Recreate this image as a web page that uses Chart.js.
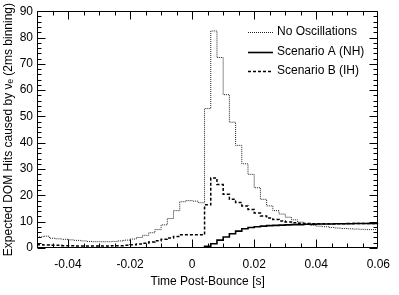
<!DOCTYPE html>
<html><head><meta charset="utf-8">
<script src="https://cdn.jsdelivr.net/npm/chart.js@4"></script>
<style>html,body{margin:0;padding:0;background:#fff}canvas{display:block}</style>
</head><body>
<canvas id="c" width="399" height="295"></canvas>
<script>
// 2 ms bins from -0.05 s to 0.06 s (55 bins, left edges)
const binEdges = Array.from({length: 56}, (_, i) => +(-0.05 + 0.002 * i).toFixed(3));
const xTickLabels = [-0.04, -0.02, 0, 0.02, 0.04, 0.06];
const yTickLabels = [0, 10, 20, 30, 40, 50, 60, 70, 80, 90];

const noOscillations = [4.2, 4.5, 3.7, 3.5, 3.3, 3.1, 2.9, 2.7, 2.5, 2.4,
  2.4, 2.4, 2.5, 2.7, 3.0, 3.4, 4.0, 4.8, 5.8, 7.0,
  8.8, 11.2, 14.2, 17.6, 18.0, 17.8, 17.2, 53.0, 82.5, 72.4,
  58.3, 47.8, 39.0, 32.0, 28.0, 22.9, 18.5, 16.0, 14.2, 12.9,
  11.7, 10.7, 9.8, 9.2, 8.6, 8.3, 8.1, 7.8, 7.6, 7.4,
  7.3, 7.2, 7.1, 7.0, 7.0];
const scenarioA = [0, 0, 0, 0, 0, 0, 0, 0, 0, 0,
  0, 0, 0, 0, 0, 0, 0, 0, 0, 0,
  0, 0, 0, 0, 0, 0, 0.1, 0.6, 1.6, 3.0,
  4.2, 5.4, 6.4, 7.3, 7.8, 8.1, 8.3, 8.5, 8.6, 8.7,
  8.8, 8.9, 8.9, 9.0, 9.0, 9.1, 9.1, 9.1, 9.2, 9.2,
  9.2, 9.3, 9.3, 9.3, 9.3];
const scenarioB = [1.2, 1.1, 1.0, 1.0, 0.9, 0.9, 0.8, 0.8, 0.8, 0.8,
  0.8, 0.8, 0.9, 0.9, 1.0, 1.2, 1.5, 1.8, 2.3, 2.8,
  3.3, 3.8, 4.4, 5.0, 5.0, 5.0, 5.0, 16.4, 26.6, 24.1,
  20.4, 18.5, 17.3, 16.0, 14.6, 13.3, 12.2, 11.4, 10.8, 10.3,
  9.9, 9.6, 9.4, 9.3, 9.2, 9.2, 9.2, 9.2, 9.2, 9.2,
  9.3, 9.3, 9.3, 9.3, 9.3];

function histPoints(vals) {
  const pts = vals.map((v, i) => ({x: binEdges[i], y: v}));
  pts.push({x: binEdges[vals.length], y: vals[vals.length - 1]});
  return pts;
}

const FONT = 'Liberation Sans, Arial, Helvetica, sans-serif';

const framePlugin = {
  id: 'frame',
  afterDatasetsDraw(chart) {
    const {ctx, chartArea: {left, right, top, bottom}, scales: {x, y}} = chart;
    ctx.save();
    ctx.strokeStyle = '#000';
    ctx.lineWidth = 1;
    const L = Math.round(left) + 0.5, R = Math.round(right) - 0.5;
    const T = Math.round(top) + 0.5, B = Math.round(bottom) - 0.5;
    ctx.beginPath();
    ctx.rect(L, T, R - L, B - T);
    // x ticks every 5 ms, long every 20 ms
    for (let i = -10; i <= 12; i++) {
      const v = i * 0.005;
      const px = Math.round(x.getPixelForValue(v)) + 0.5;
      if (px < L || px > R) continue;
      const len = (i % 4 === 0) ? 8 : 4;
      ctx.moveTo(px, B); ctx.lineTo(px, B - len);
      ctx.moveTo(px, T); ctx.lineTo(px, T + len);
    }
    // y ticks every 2, long every 10
    for (let v = 0; v <= 90; v += 2) {
      const py = Math.round(y.getPixelForValue(v)) + 0.5;
      const len = (v % 10 === 0) ? 8 : 4;
      ctx.moveTo(L, py); ctx.lineTo(L + len, py);
      ctx.moveTo(R, py); ctx.lineTo(R - len, py);
    }
    ctx.stroke();

    // legend
    const rows = [32, 51.5, 71];
    ctx.font = '12px ' + FONT;
    ctx.textBaseline = 'middle';
    ctx.textAlign = 'left';
    chart.data.datasets.forEach((ds, i) => {
      const yy = Math.round(rows[i]) + 0.5;
      ctx.beginPath();
      ctx.strokeStyle = ds.borderColor;
      ctx.lineWidth = ds.borderWidth;
      ctx.setLineDash(ds.borderDash || []);
      ctx.moveTo(248, yy); ctx.lineTo(273, yy);
      ctx.stroke();
      ctx.setLineDash([]);
      ctx.fillStyle = '#000';
      ctx.fillText(ds.label, 277, rows[i]);
    });
    ctx.restore();
  }
};

new Chart(document.getElementById('c'), {
  type: 'line',
  data: {
    datasets: [
      {label: 'No Oscillations', data: histPoints(noOscillations), borderColor: '#222', borderWidth: 1, borderDash: [1, 1], stepped: true, pointRadius: 0, fill: false},
      {label: 'Scenario A (NH)', data: histPoints(scenarioA), borderColor: '#000', borderWidth: 1.6, borderDash: [], stepped: true, pointRadius: 0, fill: false},
      {label: 'Scenario B (IH)', data: histPoints(scenarioB), borderColor: '#000', borderWidth: 1.5, borderDash: [3, 2], stepped: true, pointRadius: 0, fill: false}
    ]
  },
  options: {
    responsive: false,
    animation: false,
    devicePixelRatio: 1,
    layout: {padding: {top: 7, right: 12, left: 0, bottom: 0}},
    plugins: {legend: {display: false}, tooltip: {enabled: false}},
    scales: {
      x: {
        type: 'linear', min: -0.05, max: 0.06,
        grid: {display: false, drawTicks: false},
        border: {display: false},
        afterBuildTicks: s => { s.ticks = xTickLabels.map(v => ({value: v})); },
        afterFit: s => { s.height = 47; },
        ticks: {color: '#000', padding: 9, maxRotation: 0, autoSkip: false, font: {family: FONT, size: 12},
          callback: v => (Math.abs(v) < 1e-9 ? '0' : String(+v.toFixed(3)))},
        title: {display: true, text: 'Time Post-Bounce [s]', color: '#000', font: {family: FONT, size: 12}, padding: {top: 0, bottom: 6}}
      },
      y: {
        type: 'linear', min: 0, max: 90,
        grid: {display: false, drawTicks: false},
        border: {display: false},
        afterBuildTicks: s => { s.ticks = yTickLabels.map(v => ({value: v})); },
        afterFit: s => { s.width = 37; },
        ticks: {color: '#000', padding: 4, autoSkip: false, font: {family: FONT, size: 12}},
        title: {display: true, text: 'Expected DOM Hits caused by νₑ (2ms binning)', color: '#000', font: {family: FONT, size: 12}, padding: {top: 1, bottom: 0}}
      }
    }
  },
  plugins: [framePlugin]
});
</script>
</body></html>
